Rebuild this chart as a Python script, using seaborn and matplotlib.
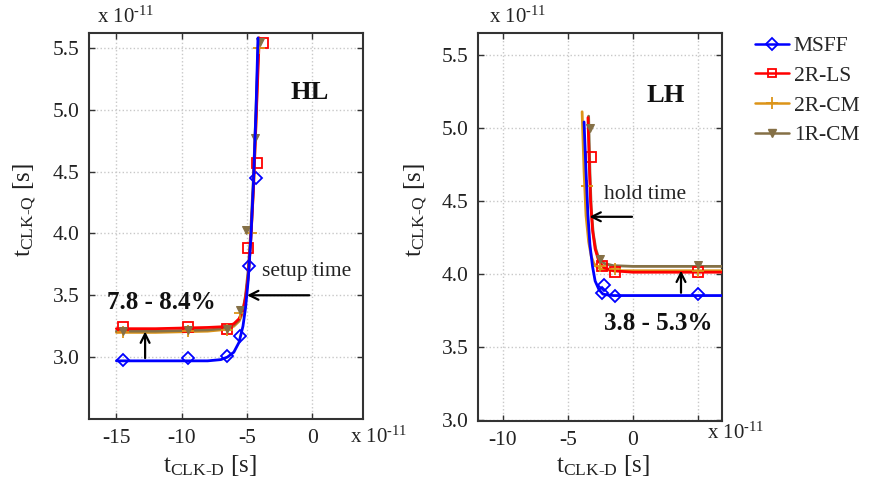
import matplotlib
matplotlib.use("Agg")
import matplotlib.pyplot as plt
import seaborn as sns
import pandas as pd
from matplotlib.lines import Line2D

# ---------------- data (units: 1e-11 s) ----------------
series = ["MSFF", "2R-LS", "2R-CM", "1R-CM"]
colors = ["#0000ff", "#ff0000", "#dc9418", "#857046"]
markers = ["D", "s", "+", "v"]

# HL panel: marker points
hl_msff_mx = [-14.5, -9.5, -6.5, -5.5, -4.8, -4.3]
hl_msff_my = [2.98, 2.99, 3.01, 3.17, 3.74, 4.45]
hl_2rls_mx = [-14.5, -9.5, -6.5, -4.9, -4.2, -3.8]
hl_2rls_my = [3.24, 3.24, 3.23, 3.88, 4.57, 5.54]
hl_2rcm_mx = [-14.5, -9.5, -6.5, -5.5, -4.7, -4.1]
hl_2rcm_my = [3.20, 3.21, 3.22, 3.36, 4.00, 5.50]
hl_1rcm_mx = [-14.5, -9.5, -6.5, -5.5, -5.1, -4.4, -4.0]
hl_1rcm_my = [3.21, 3.22, 3.23, 3.38, 4.03, 4.77, 5.55]
# HL panel: fitted curves
hl_msff_cx = [-15, -12, -10, -8, -7, -6.5, -6, -5.6, -5.3, -5.1, -4.9, -4.7, -4.5, -4.3, -4.15]
hl_msff_cy = [2.97, 2.97, 2.97, 2.97, 2.98, 3.0, 3.04, 3.12, 3.25, 3.40, 3.62, 3.95, 4.4, 5.0, 5.58]
hl_2rls_cx = [-15, -12, -10, -8, -7, -6.5, -6, -5.6, -5.3, -5.1, -4.9, -4.7, -4.5, -4.3, -4.05]
hl_2rls_cy = [3.23, 3.23, 3.235, 3.24, 3.245, 3.25, 3.27, 3.31, 3.38, 3.48, 3.65, 3.95, 4.35, 4.9, 5.58]
hl_2rcm_cx = [-15, -12, -10, -8, -7, -6.5, -6, -5.6, -5.3, -5.1, -4.9, -4.7, -4.5, -4.3, -4.1]
hl_2rcm_cy = [3.20, 3.20, 3.205, 3.21, 3.22, 3.23, 3.25, 3.29, 3.36, 3.47, 3.65, 3.95, 4.35, 4.9, 5.58]
hl_1rcm_cx = [-15, -12, -10, -8, -7, -6.5, -6, -5.6, -5.3, -5.1, -4.9, -4.7, -4.5, -4.3, -4.1]
hl_1rcm_cy = [3.21, 3.21, 3.215, 3.22, 3.23, 3.24, 3.26, 3.30, 3.38, 3.50, 3.70, 4.02, 4.45, 5.0, 5.58]

# LH panel: marker points
lh_msff_mx = [-2.4, -2.2, -1.4, 5.0]
lh_msff_my = [3.87, 3.92, 3.85, 3.86]
lh_2rls_mx = [-3.2, -2.4, -1.4, 5.0]
lh_2rls_my = [4.80, 4.05, 4.01, 4.01]
lh_2rcm_mx = [-3.5, -2.5, -1.4, 5.0]
lh_2rcm_my = [4.60, 4.05, 4.03, 4.02]
lh_1rcm_mx = [-3.3, -2.5, 5.0]
lh_1rcm_my = [5.00, 4.10, 4.06]
# LH panel: fitted curves
lh_msff_cx = [-3.75, -3.6, -3.45, -3.3, -3.1, -2.9, -2.6, -2.3, -2.0, -1.5, 0, 3, 6.85]
lh_msff_cy = [5.04, 4.7, 4.4, 4.2, 4.05, 3.95, 3.89, 3.86, 3.855, 3.85, 3.85, 3.85, 3.85]
lh_2rls_cx = [-3.45, -3.35, -3.25, -3.1, -2.9, -2.6, -2.2, -1.5, 0, 3, 6.85]
lh_2rls_cy = [5.07, 4.75, 4.5, 4.3, 4.17, 4.08, 4.04, 4.02, 4.01, 4.01, 4.01]
lh_2rcm_cx = [-3.9, -3.75, -3.6, -3.4, -3.2, -3.0, -2.7, -2.3, -1.5, 0, 3, 6.85]
lh_2rcm_cy = [5.11, 4.7, 4.4, 4.22, 4.12, 4.07, 4.04, 4.03, 4.02, 4.02, 4.02, 4.02]
lh_1rcm_cx = [-3.4, -3.3, -3.2, -3.05, -2.85, -2.6, -2.2, -1.5, 0, 3, 6.85]
lh_1rcm_cy = [5.08, 4.7, 4.45, 4.28, 4.17, 4.1, 4.07, 4.055, 4.05, 4.05, 4.05]

hl_marks = [(hl_msff_mx, hl_msff_my), (hl_2rls_mx, hl_2rls_my), (hl_2rcm_mx, hl_2rcm_my), (hl_1rcm_mx, hl_1rcm_my)]
hl_curves = [(hl_msff_cx, hl_msff_cy), (hl_2rls_cx, hl_2rls_cy), (hl_2rcm_cx, hl_2rcm_cy), (hl_1rcm_cx, hl_1rcm_cy)]
lh_marks = [(lh_msff_mx, lh_msff_my), (lh_2rls_mx, lh_2rls_my), (lh_2rcm_mx, lh_2rcm_my), (lh_1rcm_mx, lh_1rcm_my)]
lh_curves = [(lh_msff_cx, lh_msff_cy), (lh_2rls_cx, lh_2rls_cy), (lh_2rcm_cx, lh_2rcm_cy), (lh_1rcm_cx, lh_1rcm_cy)]

hl_xticks = [-15, -10, -5, 0]
hl_xticklabels = ["-15", "-10", "-5", "0"]
lh_xticks = [-10, -5, 0, 5]
lh_xticklabels = ["-10", "-5", "0", ""]
yticks = [3.0, 3.5, 4.0, 4.5, 5.0, 5.5]
yticklabels = ["3.0", "3.5", "4.0", "4.5", "5.0", "5.5"]

# ---------------- style ----------------
sns.set_theme(style="white")
plt.rcParams["font.family"] = ["Liberation Serif", "DejaVu Serif"]
plt.rcParams["mathtext.fontset"] = "custom"
plt.rcParams["mathtext.rm"] = "Liberation Serif"
plt.rcParams["mathtext.it"] = "Liberation Serif"
plt.rcParams["axes.unicode_minus"] = False

W, H = 872, 484
fig = plt.figure(figsize=(W / 100, H / 100), dpi=100)
fig.patch.set_facecolor("white")

def px_axes(x0, y0, x1, y1):
    return fig.add_axes([x0 / W, 1 - y1 / H, (x1 - x0) / W, (y1 - y0) / H])

axL = px_axes(89, 33, 363, 419)
axR = px_axes(478, 33, 722, 421)

def draw(ax, marks, curves):
    for i in range(4):
        cx, cy = curves[i]
        dfc = pd.DataFrame({"x": cx, "y": cy})
        sns.lineplot(data=dfc, x="x", y="y", ax=ax, color=colors[i], lw=2.0,
                     sort=False, estimator=None, zorder=3 + (1 if i == 1 else 0) + (2 if i == 0 else 0))
        mx, my = marks[i]
        dfm = pd.DataFrame({"x": mx, "y": my})
        if markers[i] == "+":
            kw = dict(mec=colors[i], mew=1.3, ms=8)
        elif markers[i] == "v":
            kw = dict(mfc=colors[i], mec=colors[i], ms=6)
        else:
            kw = dict(mfc="none", mec=colors[i], mew=1.3, ms=6.5)
        sns.lineplot(data=dfm, x="x", y="y", ax=ax, color=colors[i], marker=markers[i],
                     linestyle="", sort=False, estimator=None, zorder=4, **kw)

draw(axL, hl_marks, hl_curves)
draw(axR, lh_marks, lh_curves)

def style_axes(ax, xlim, ylim, xticks, xtl):
    ax.set_xlim(*xlim)
    ax.set_ylim(*ylim)
    ax.set_xticks(xticks)
    ax.set_xticklabels(xtl, fontsize=15.5)
    ax.set_yticks(yticks)
    ax.set_yticklabels(yticklabels, fontsize=15.5)
    ax.grid(True, color="#c8c8c8", linestyle=":", linewidth=1.0)
    ax.tick_params(direction="in", length=4, width=1, top=True, right=True,
                   bottom=True, left=True, pad=7, colors="#333333", labelcolor="#222222")
    for s in ax.spines.values():
        s.set_color("#333333")
        s.set_linewidth(1.5)
    ax.set_xlabel("")
    ax.set_ylabel("")

style_axes(axL, (-17.1, 3.9), (2.5, 5.62), hl_xticks, hl_xticklabels)
style_axes(axR, (-11.9, 6.85), (2.99, 5.65), lh_xticks, lh_xticklabels)

ylab = r"$\mathregular{t_{CLK\text{-}Q}}$ [s]"
xlab = r"$\mathregular{t_{CLK\text{-}D}}$ [s]"
fig.text(25 / W, 1 - 210 / H, ylab, rotation=90, ha="center", va="center", fontsize=18, color="#222222")
fig.text(416 / W, 1 - 210 / H, ylab, rotation=90, ha="center", va="center", fontsize=18, color="#222222")
fig.text(210 / W, 1 - 466 / H, xlab, ha="center", va="center", fontsize=18, color="#222222")
fig.text(603 / W, 1 - 466 / H, xlab, ha="center", va="center", fontsize=18, color="#222222")

sci = r"x 10$^{\mathregular{\text{-}11}}$"
fig.text(97 / W, 1 - 17 / H, sci, ha="left", va="center", fontsize=15, color="#222222")
fig.text(489 / W, 1 - 17 / H, sci, ha="left", va="center", fontsize=15, color="#222222")
fig.text(350 / W, 1 - 437 / H, sci, ha="left", va="center", fontsize=15, color="#222222")
fig.text(707 / W, 1 - 433 / H, sci, ha="left", va="center", fontsize=15, color="#222222")

# annotations HL
axL.text(-0.2, 5.14, "HL", fontsize=19, fontweight="bold", ha="center", va="center", color="#111111")
axL.text(-3.85, 3.69, "setup time", fontsize=15.5, ha="left", va="center", color="#222222")
axL.annotate("", xy=(-5.2, 3.5), xytext=(0.0, 3.5),
             arrowprops=dict(arrowstyle="->", lw=1.6, color="black", mutation_scale=16), zorder=6)
axL.text(-15.7, 3.44, "7.8 - 8.4%", fontsize=18, fontweight="bold", ha="left", va="center", color="#111111")
axL.annotate("", xy=(-12.8, 3.23), xytext=(-12.8, 2.97),
             arrowprops=dict(arrowstyle="->", lw=1.6, color="black", mutation_scale=16), zorder=6)

# annotations LH
axR.text(2.55, 5.22, "LH", fontsize=19, fontweight="bold", ha="center", va="center", color="#111111")
axR.text(-2.25, 4.54, "hold time", fontsize=15.5, ha="left", va="center", color="#222222")
axR.annotate("", xy=(-3.55, 4.39), xytext=(0.15, 4.39),
             arrowprops=dict(arrowstyle="->", lw=1.6, color="black", mutation_scale=16), zorder=6)
axR.text(1.95, 3.66, "3.8 - 5.3%", fontsize=18, fontweight="bold", ha="center", va="center", color="#111111")
axR.annotate("", xy=(3.7, 4.04), xytext=(3.7, 3.85),
             arrowprops=dict(arrowstyle="->", lw=1.6, color="black", mutation_scale=16), zorder=6)

# legend
handles = []
for i in range(4):
    if markers[i] == "+":
        h = Line2D([], [], color=colors[i], lw=1.8, marker="+", ms=8, mec=colors[i], mew=1.3)
    elif markers[i] == "v":
        h = Line2D([], [], color=colors[i], lw=1.8, marker="v", ms=6, mfc=colors[i], mec=colors[i])
    else:
        h = Line2D([], [], color=colors[i], lw=1.8, marker=markers[i], ms=6, mfc="none", mec=colors[i], mew=1.3)
    handles.append(h)
fig.legend(handles, series, loc="upper left", bbox_to_anchor=(755 / W, 1 - 36 / H),
           frameon=False, fontsize=15.5, handlelength=1.6, handletextpad=0.2,
           labelspacing=0.45, borderaxespad=0, borderpad=0)

fig.savefig("out.png", dpi=100, facecolor="white")
